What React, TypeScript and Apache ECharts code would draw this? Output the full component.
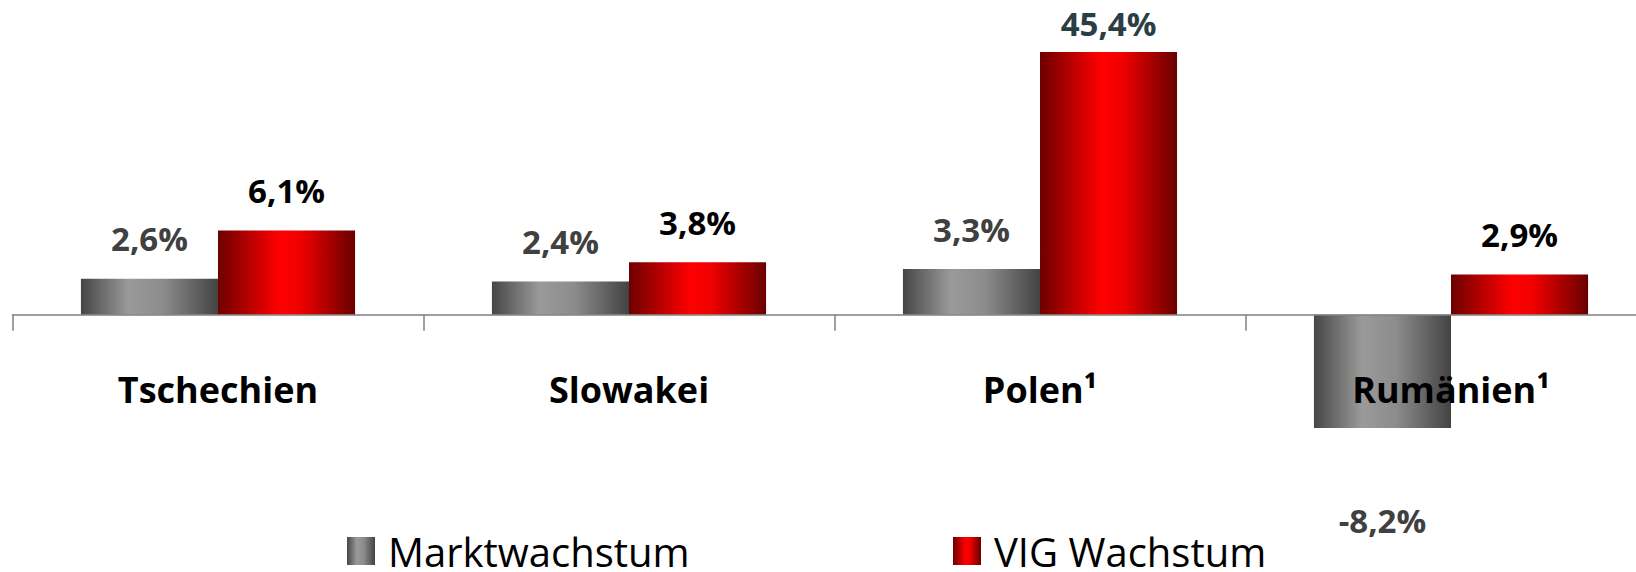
import React, { useEffect, useRef } from "react";
import * as echarts from "echarts";

const categories = ["Tschechien", "Slowakei", "Polen¹", "Rumänien¹"];
const marktwachstum = [2.6, 2.4, 3.3, -8.2];
const vigWachstum = [6.1, 3.8, 45.4, 2.9];
const seriesNames = ["Marktwachstum", "VIG Wachstum"];

const fmt = (v: number) => v.toFixed(1).replace(".", ",") + "%";

export default function App() {
  const ref = useRef<HTMLDivElement>(null);
  useEffect(() => {
    if (!ref.current) return;
    const chart = echarts.init(ref.current, null, { renderer: "svg" });
    const grey = new echarts.graphic.LinearGradient(0, 0, 1, 0, [
      { offset: 0, color: "#464646" },
      { offset: 0.35, color: "#9a9a9a" },
      { offset: 0.6, color: "#8c8c8c" },
      { offset: 1, color: "#434343" },
    ]);
    const red = new echarts.graphic.LinearGradient(0, 0, 1, 0, [
      { offset: 0, color: "#6e0000" },
      { offset: 0.45, color: "#ff0000" },
      { offset: 0.6, color: "#f00000" },
      { offset: 1, color: "#690000" },
    ]);
    const labelBase = {
      show: true,
      position: "top",
      distance: 23,
      fontFamily: "Open Sans",
      fontWeight: "bold",
      fontSize: 33,
      lineHeight: 34,
      formatter: (p: any) => fmt(p.value),
    };
    const legendCommon = {
      top: 531,
      itemWidth: 28,
      itemHeight: 28,
      itemGap: 0,
      padding: 0,
      icon: "rect",
      selectedMode: false,
      textStyle: {
        fontFamily: "Open Sans",
        fontSize: 40,
        lineHeight: 34,
        color: "#000",
        padding: [0, 0, 0, 8],
      },
    };
    chart.setOption({
      animation: false,
      grid: { left: 12.5, width: 1644, top: 52, bottom: 119, outerBoundsMode: "none", containLabel: false },
      legend: [
        { ...legendCommon, left: 347, data: [seriesNames[0]] },
        { ...legendCommon, left: 953, data: [seriesNames[1]] },
      ],
      xAxis: {
        type: "category",
        data: categories,
        z: 5,
        axisLine: { lineStyle: { color: "#7f7f7f", width: 1.5 } },
        axisTick: { show: true, length: 16, lineStyle: { color: "#7f7f7f", width: 1.5 } },
        axisLabel: {
          margin: -82,
          interval: 0,
          fontFamily: "Open Sans",
          fontWeight: "bold",
          fontSize: 36,
          color: "#000",
        },
      },
      yAxis: {
        type: "value",
        min: -10,
        max: 19,
        show: false,
        splitLine: { show: false },
      },
      series: [
        {
          name: seriesNames[0],
          type: "bar",
          clip: true,
          barGap: "0%",
          barCategoryGap: "33.3%",
          itemStyle: { color: grey },
          label: { ...labelBase, color: "#404040" },
          data: marktwachstum.map((v) =>
            v < 0 ? { value: v, label: { position: "bottom", distance: 75 } } : v
          ),
        },
        {
          name: seriesNames[1],
          type: "bar",
          clip: true,
          barGap: "0%",
          barCategoryGap: "33.3%",
          itemStyle: { color: red },
          label: { ...labelBase, color: "#000" },
          data: vigWachstum.map((v) =>
            v > 19 ? { value: v, label: { color: "#2b3d45", distance: 12 } } : v
          ),
        },
      ],
    });
    return () => chart.dispose();
  }, []);
  return (
    <div
      ref={ref}
      style={{ position: "fixed", left: 0, top: 0, width: 1636, height: 572, background: "#fff" }}
    />
  );
}
